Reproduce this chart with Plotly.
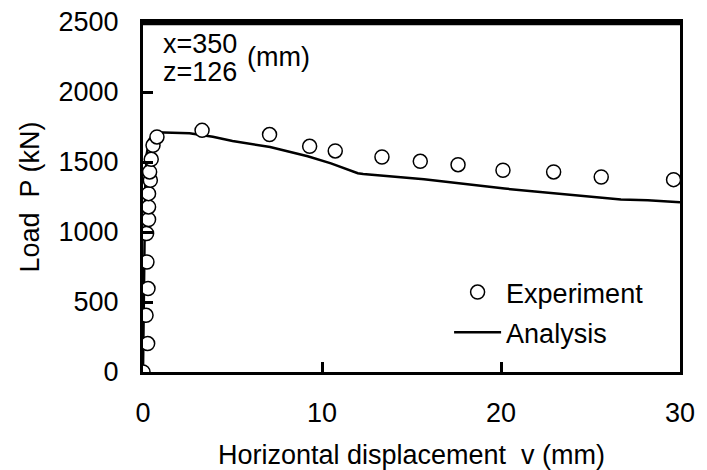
import plotly.graph_objects as go

# Experiment data (horizontal displacement v [mm], load P [kN])
exp_v = [0.0, 0.26, 0.17, 0.28, 0.22, 0.20, 0.31, 0.31, 0.31, 0.41, 0.37, 0.46, 0.56, 0.78,
         3.30, 7.07, 9.31, 10.74, 13.35, 15.49, 17.60, 20.11, 22.94, 25.60, 29.64]
exp_p = [0, 203, 405, 596, 786, 989, 1089, 1179, 1274, 1369, 1429, 1519, 1619, 1679,
         1726, 1696, 1612, 1579, 1536, 1505, 1481, 1441, 1429, 1393, 1374]

# Analysis curve
ana_v = [0.0, 0.05, 0.12, 0.20, 0.35, 0.70, 2.60, 3.90, 5.00, 7.10, 9.20, 10.50, 12.00, 12.30,
         15.70, 20.20, 22.80, 25.40, 26.70, 28.20, 30.0]
ana_p = [0, 800, 1300, 1550, 1660, 1712, 1705, 1680, 1650, 1607, 1541, 1490, 1420, 1415,
         1376, 1310, 1278, 1250, 1232, 1226, 1212]

x_ticks = [0, 10, 20, 30]
y_ticks = [0, 500, 1000, 1500, 2000, 2500]

FONT = "Liberation Sans, Arial, sans-serif"
FS = 27

fig = go.Figure()
fig.add_trace(go.Scatter(
    x=ana_v, y=ana_p, mode="lines", name="Analysis",
    line=dict(color="black", width=2.5), legendrank=2, legendgroup="b",
))
fig.add_trace(go.Scatter(
    x=exp_v, y=exp_p, mode="markers", name="Experiment",
    marker=dict(symbol="circle", size=14, color="white", line=dict(color="black", width=1.5)),
    legendrank=1, legendgroup="a",
))

axis_common = dict(
    showgrid=False, zeroline=False, showline=True, linecolor="black", linewidth=3,
    ticks="inside", ticklen=10, tickwidth=3, tickcolor="black",
    tickfont=dict(family=FONT, size=FS, color="black"), automargin=False,
)

fig.update_xaxes(range=[0, 30], tickvals=x_ticks, ticklabelstandoff=15, mirror=True,
                 title=dict(text="Horizontal displacement  v (mm)", font=dict(family=FONT, size=FS, color="black"), standoff=20),
                 **axis_common)
fig.update_yaxes(range=[0, 2500], tickvals=y_ticks, ticklabelstandoff=16, mirror=True,
                 title=dict(text="Load  P (kN)", font=dict(family=FONT, size=FS, color="black"), standoff=12),
                 **axis_common)

# explicit top edge of the frame
fig.add_shape(type="line", xref="paper", yref="paper", x0=0, x1=1, y0=1, y1=1,
              line=dict(color="#000000", width=4), layer="above")
fig.add_shape(type="line", xref="paper", yref="paper", x0=0, x1=1, y0=0.995, y1=0.995,
              line=dict(color="#000000", width=3), layer="above")

fig.add_annotation(x=1.0, y=2340, xref="x", yref="y", text="x=350", showarrow=False,
                   xanchor="left", yanchor="middle", font=dict(family=FONT, size=FS, color="black"))
fig.add_annotation(x=1.0, y=2140, xref="x", yref="y", text="z=126", showarrow=False,
                   xanchor="left", yanchor="middle", font=dict(family=FONT, size=FS, color="black"))
fig.add_annotation(x=5.7, y=2248, xref="x", yref="y", text="(mm)", showarrow=False,
                   xanchor="left", yanchor="middle", font=dict(family=FONT, size=FS, color="black"))

fig.update_layout(
    width=707, height=470,
    margin=dict(l=143, r=27, t=22, b=98),
    paper_bgcolor="white", plot_bgcolor="white",
    showlegend=True,
    legend=dict(x=0.57, y=0.17, xanchor="left", yanchor="middle", bgcolor="rgba(0,0,0,0)",
                font=dict(family=FONT, size=FS, color="black"), traceorder="grouped",
                tracegroupgap=2, itemwidth=47),
)

fig.write_html("out.html", config={"displayModeBar": False},
               post_script="document.body.style.margin='0';")
